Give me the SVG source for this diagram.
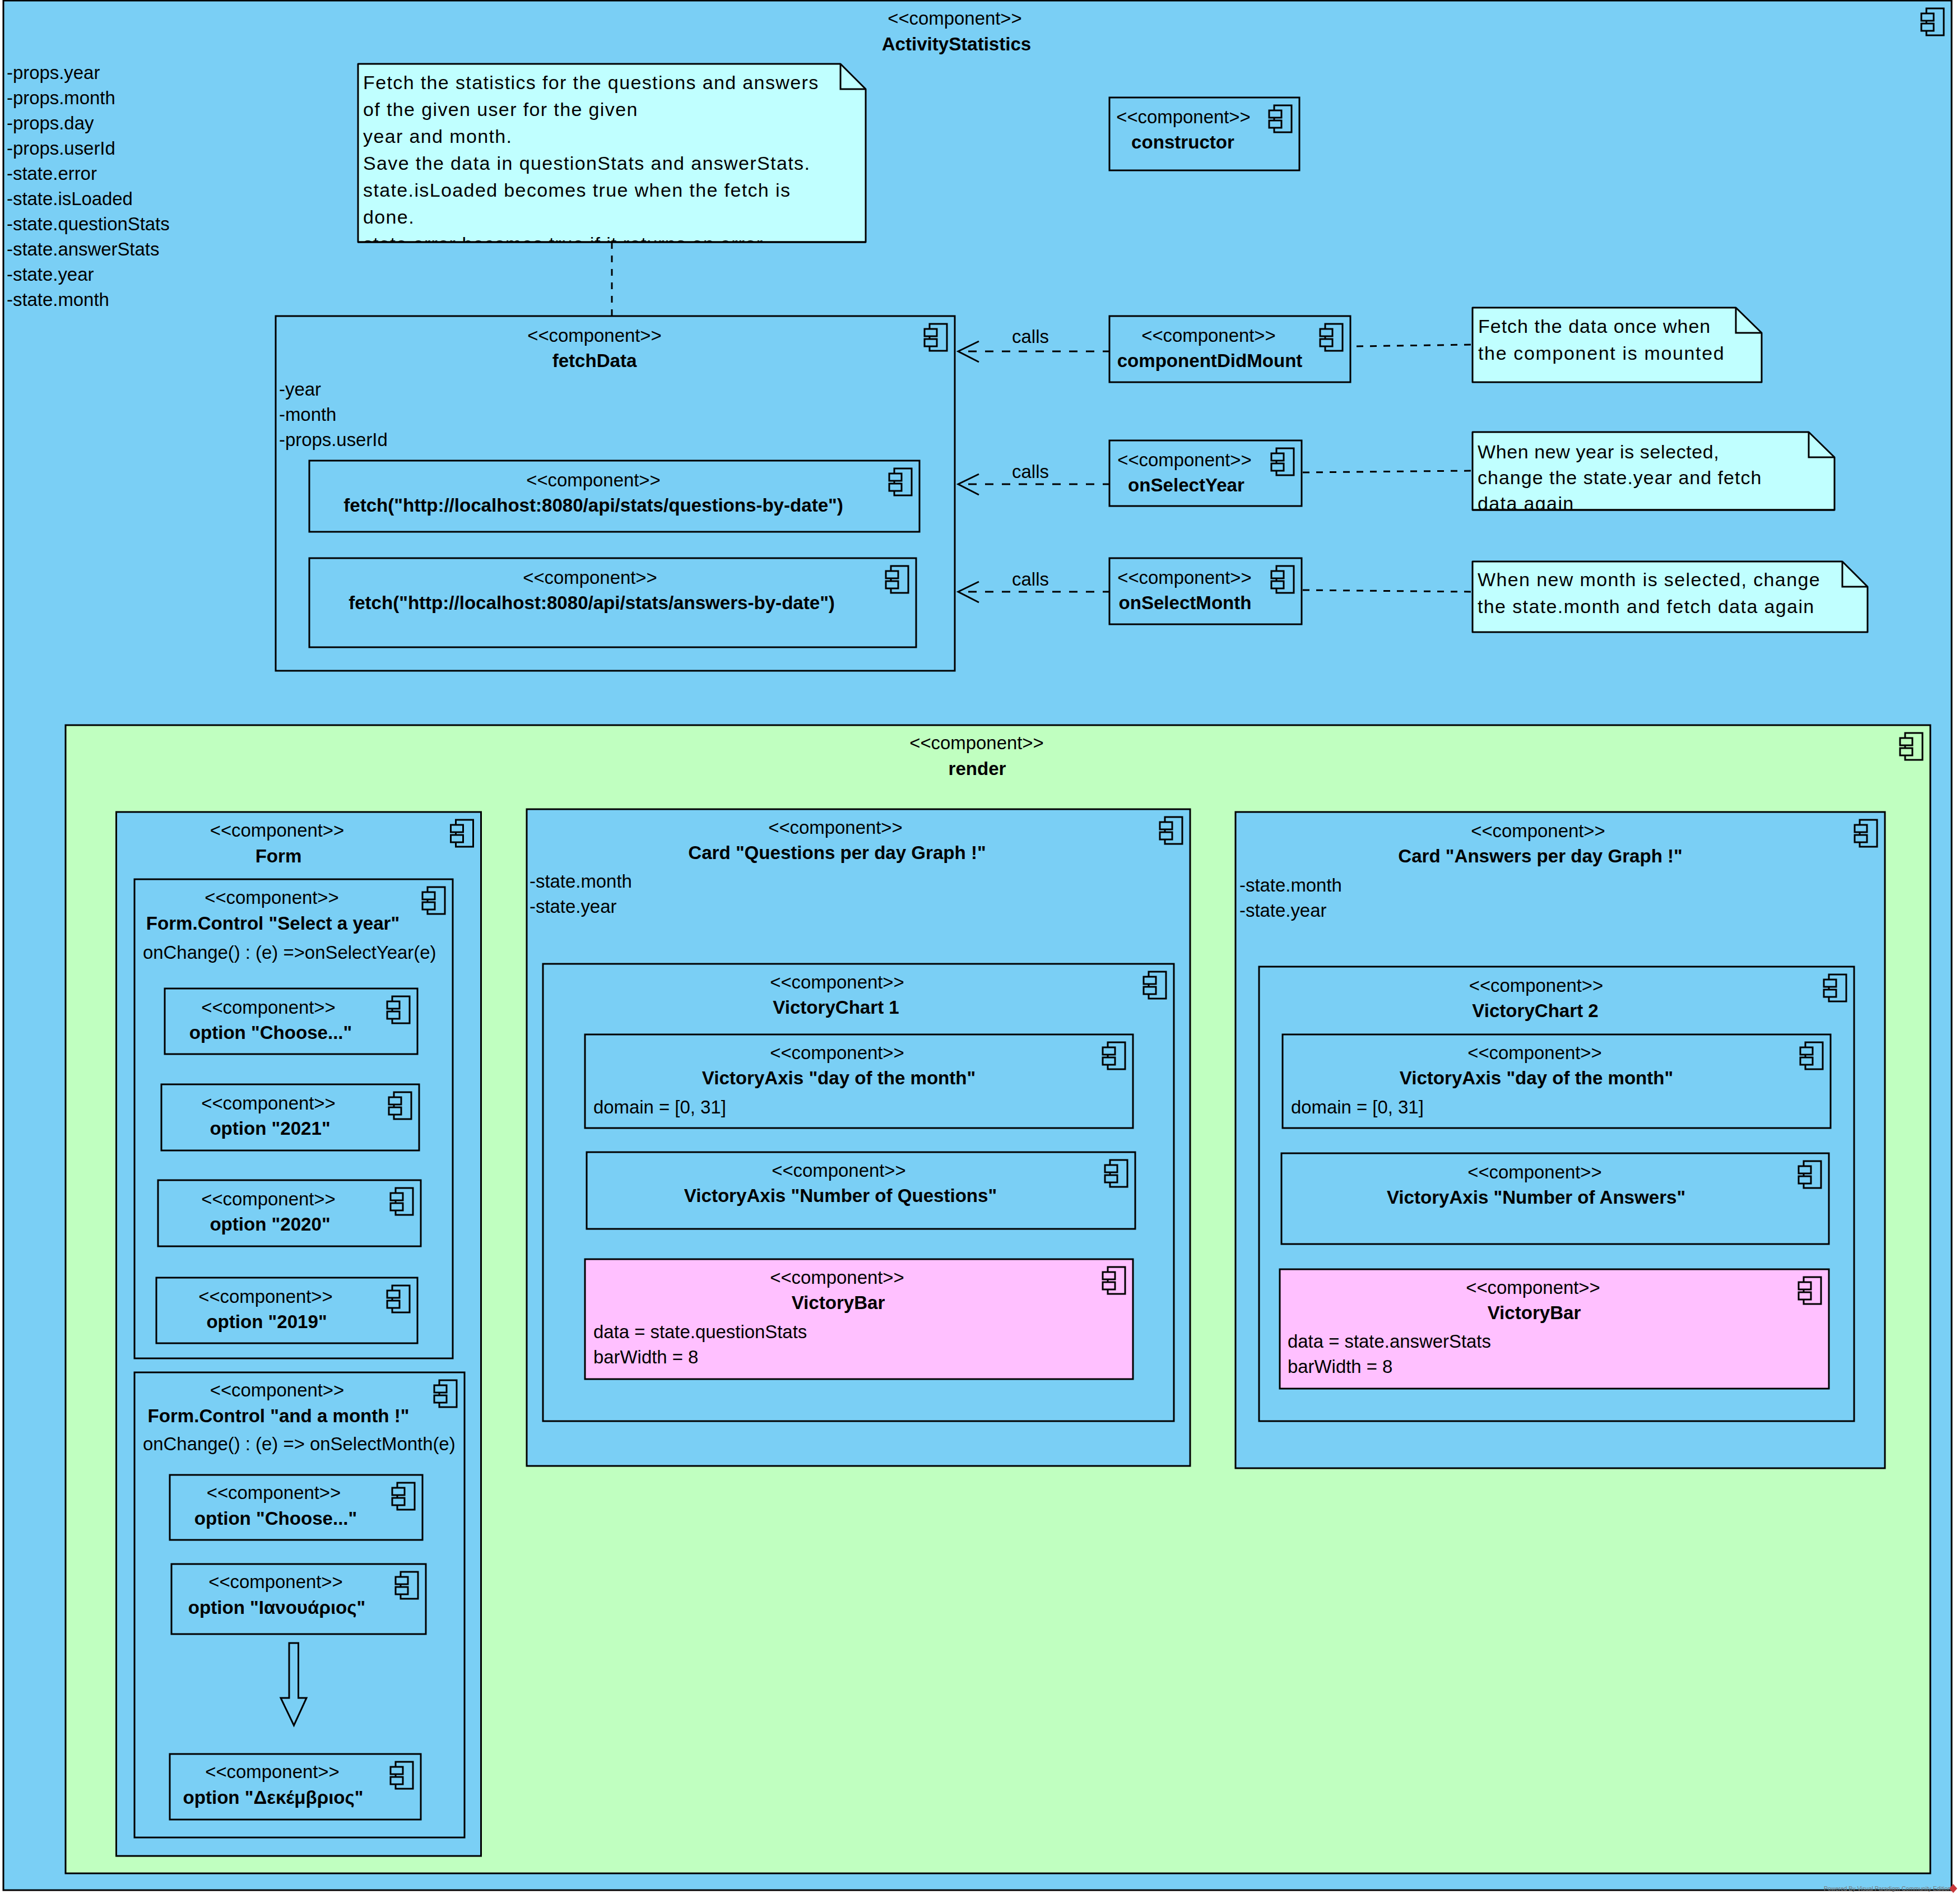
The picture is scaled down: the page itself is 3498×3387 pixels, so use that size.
<svg xmlns="http://www.w3.org/2000/svg" width="3498" height="3387" viewBox="0 0 3498 3387">
<style>
text{font-family:"Liberation Sans",Arial,sans-serif;font-size:32.9px;fill:#000}
.b{font-weight:bold;font-size:33.1px}
.m{text-anchor:middle}
.n{font-size:34px;letter-spacing:1.38px}
.n2{letter-spacing:1px}
.s{fill:#7ACFF5;stroke:#000;stroke-width:3}
.g{fill:#C0FFC0;stroke:#000;stroke-width:3}
.p{fill:#FFC0FF;stroke:#000;stroke-width:3}
.t{fill:#C0FFFF;stroke:#000;stroke-width:3;stroke-linejoin:round}
.f{fill:none;stroke:#000;stroke-width:3}
.d{fill:none;stroke:#000;stroke-width:3;stroke-dasharray:12 12}
.e{fill:none;stroke:#000;stroke-width:3;stroke-dasharray:15 15}
</style>
<defs>
<g id="ic"><path class="f" d="M-45 23V14H-14V62H-45V54M-45 36V41"/><rect class="f" x="-54" y="23" width="22" height="13"/><rect class="f" x="-54" y="41" width="22" height="13"/></g>
<clipPath id="c1"><rect x="638" y="114" width="907" height="318"/></clipPath>
<clipPath id="c2"><rect x="2628" y="771" width="646" height="139"/></clipPath>
</defs>
<rect width="3498" height="3387" fill="#fff"/>

<g id="ActivityStatistics"><rect class="s" x="6" y="1" width="3477" height="3372"/><use href="#ic" x="3483" y="1"/>
<text class="m" x="1704" y="44">&lt;&lt;component&gt;&gt;</text><text class="m b" x="1707" y="90">ActivityStatistics</text>
<text x="12" y="141">-props.year</text><text x="12" y="186">-props.month</text><text x="12" y="231">-props.day</text><text x="12" y="276">-props.userId</text><text x="12" y="321">-state.error</text><text x="12" y="366">-state.isLoaded</text><text x="12" y="411">-state.questionStats</text><text x="12" y="456">-state.answerStats</text><text x="12" y="501">-state.year</text><text x="12" y="546">-state.month</text></g>

<g id="note-fetch"><path class="t" d="M639 114H1500L1545 159V432H639Z"/><path class="f" d="M1500 114V159H1545"/>
<g clip-path="url(#c1)"><text class="n" x="648" y="159">Fetch the statistics for the questions and answers</text><text class="n" x="648" y="207">of the given user for the given</text><text class="n" x="648" y="255">year and month.</text><text class="n" x="648" y="303">Save the data in questionStats and answerStats.</text><text class="n" x="648" y="351">state.isLoaded becomes true when the fetch is</text><text class="n" x="648" y="399">done.</text><text class="n n2" x="648" y="447">state.error becomes true if it returns an error</text></g><path class="f" d="M639 432H1545"/></g>

<g id="constructor"><rect class="s" x="1980" y="174" width="339" height="130"/><use href="#ic" x="2319" y="174"/><text class="m" x="2112" y="220">&lt;&lt;component&gt;&gt;</text><text class="m b" x="2111" y="265">constructor</text></g>

<g id="fetchData"><rect class="s" x="492" y="564" width="1212" height="633"/><use href="#ic" x="1704" y="564"/><text class="m" x="1061" y="610">&lt;&lt;component&gt;&gt;</text><text class="m b" x="1061" y="655">fetchData</text><text x="498" y="706">-year</text><text x="498" y="751">-month</text><text x="498" y="796">-props.userId</text></g>
<g id="fetch-questions"><rect class="s" x="552" y="822" width="1089" height="127"/><use href="#ic" x="1641" y="822"/><text class="m" x="1059" y="868">&lt;&lt;component&gt;&gt;</text><text class="m b" x="1059" y="913">fetch("http://localhost:8080/api/stats/questions-by-date")</text></g>
<g id="fetch-answers"><rect class="s" x="552" y="996" width="1083" height="159"/><use href="#ic" x="1635" y="996"/><text class="m" x="1053" y="1042">&lt;&lt;component&gt;&gt;</text><text class="m b" x="1056" y="1087">fetch("http://localhost:8080/api/stats/answers-by-date")</text></g>

<g id="componentDidMount"><rect class="s" x="1980" y="564" width="430" height="118"/><use href="#ic" x="2410" y="564"/><text class="m" x="2157" y="610">&lt;&lt;component&gt;&gt;</text><text class="m b" x="2159" y="655">componentDidMount</text></g>
<g id="onSelectYear"><rect class="s" x="1980" y="786" width="343" height="117"/><use href="#ic" x="2323" y="786"/><text class="m" x="2114" y="832">&lt;&lt;component&gt;&gt;</text><text class="m b" x="2117" y="877">onSelectYear</text></g>
<g id="onSelectMonth"><rect class="s" x="1980" y="996" width="343" height="118"/><use href="#ic" x="2323" y="996"/><text class="m" x="2114" y="1042">&lt;&lt;component&gt;&gt;</text><text class="m b" x="2115" y="1087">onSelectMonth</text></g>

<g id="note-mount"><path class="t" d="M2628 549H3098L3144 594V682H2628Z"/><path class="f" d="M3098 549V594H3144"/><text class="n n2" x="2638" y="594">Fetch the data once when</text><text class="n" style="letter-spacing:1.65px" x="2638" y="642">the component is mounted</text></g>
<g id="note-year"><path class="t" d="M2628 771H3228L3274 816V910H2628Z"/><path class="f" d="M3228 771V816H3274"/><g clip-path="url(#c2)"><text class="n" style="letter-spacing:.6px" x="2637" y="818">When new year is selected,</text><text class="n n2" x="2637" y="864">change the state.year and fetch</text><text class="n" x="2637" y="910">data again</text></g><path class="f" d="M2628 910H3274"/></g>
<g id="note-month"><path class="t" d="M2628 1002H3288L3333 1047V1128H2628Z"/><path class="f" d="M3288 1002V1047H3333"/><text class="n" x="2637" y="1046">When new month is selected, change</text><text class="n" x="2637" y="1094">the state.month and fetch data again</text></g>

<g id="connectors">
<path class="d" d="M1092 432V564"/>
<path class="e" d="M1728 627H1980"/><path class="f" d="M1747 609L1710 627L1747 646"/>
<path class="e" d="M1728 864H1980"/><path class="f" d="M1747 846L1710 864L1747 883"/>
<path class="e" d="M1728 1056H1980"/><path class="f" d="M1747 1038L1710 1056L1747 1075"/>
<path class="d" d="M2421 618L2626 615"/><path class="d" d="M2325 843L2626 840"/><path class="d" d="M2325 1053L2626 1056"/>
<text class="m" x="1839" y="612">calls</text><text class="m" x="1839" y="853">calls</text><text class="m" x="1839" y="1045">calls</text>
</g>

<g id="render"><rect class="g" x="117" y="1294" width="3328" height="2049"/><use href="#ic" x="3445" y="1294"/><text class="m" x="1743" y="1337">&lt;&lt;component&gt;&gt;</text><text class="m b" x="1744" y="1383">render</text></g>

<g id="Form"><rect class="s" x="207.500" y="1449" width="651" height="1863"/><use href="#ic" x="858.500" y="1449"/><text class="m" x="494.500" y="1493">&lt;&lt;component&gt;&gt;</text><text class="m b" x="497" y="1539">Form</text></g>
<g id="control-year"><rect class="s" x="240" y="1569" width="568" height="855"/><use href="#ic" x="808" y="1569"/><text class="m" x="485" y="1613">&lt;&lt;component&gt;&gt;</text><text class="m b" x="487" y="1659">Form.Control "Select a year"</text><text x="255" y="1711">onChange() : (e) =&gt;onSelectYear(e)</text></g>
<g id="y-choose"><rect class="s" x="294" y="1764" width="451" height="117"/><use href="#ic" x="745" y="1764"/><text class="m" x="479" y="1809">&lt;&lt;component&gt;&gt;</text><text class="m b" x="483" y="1854">option "Choose..."</text></g>
<g id="y-2021"><rect class="s" x="288" y="1935" width="460" height="118"/><use href="#ic" x="748" y="1935"/><text class="m" x="479" y="1980">&lt;&lt;component&gt;&gt;</text><text class="m b" x="482" y="2025">option "2021"</text></g>
<g id="y-2020"><rect class="s" x="282" y="2106" width="469" height="118"/><use href="#ic" x="751" y="2106"/><text class="m" x="479" y="2151">&lt;&lt;component&gt;&gt;</text><text class="m b" x="482" y="2196">option "2020"</text></g>
<g id="y-2019"><rect class="s" x="279" y="2280" width="466" height="117"/><use href="#ic" x="745" y="2280"/><text class="m" x="474" y="2325">&lt;&lt;component&gt;&gt;</text><text class="m b" x="476" y="2370">option "2019"</text></g>
<g id="control-month"><rect class="s" x="240" y="2449" width="589" height="830"/><use href="#ic" x="829" y="2449"/><text class="m" x="494.500" y="2492">&lt;&lt;component&gt;&gt;</text><text class="m b" x="497" y="2538">Form.Control "and a month !"</text><text x="255" y="2588">onChange() : (e) =&gt; onSelectMonth(e)</text></g>
<g id="m-choose"><rect class="s" x="303" y="2632" width="451" height="116"/><use href="#ic" x="754" y="2632"/><text class="m" x="488.500" y="2675">&lt;&lt;component&gt;&gt;</text><text class="m b" x="492" y="2721">option "Choose..."</text></g>
<g id="m-jan"><rect class="s" x="306" y="2791" width="454" height="125"/><use href="#ic" x="760" y="2791"/><text class="m" x="492" y="2834">&lt;&lt;component&gt;&gt;</text><text class="m b" x="494" y="2880">option "Ιανουάριος"</text></g>
<g id="m-arrow"><path class="f" d="M516 2932H532.500V3030H547L524.500 3079L501 3030H516Z"/></g>
<g id="m-dec"><rect class="s" x="303" y="3130" width="448" height="117"/><use href="#ic" x="751" y="3130"/><text class="m" x="486" y="3173">&lt;&lt;component&gt;&gt;</text><text class="m b" x="487.500" y="3219">option "Δεκέμβριος"</text></g>

<g id="card-questions"><rect class="s" x="940" y="1444" width="1184" height="1172"/><use href="#ic" x="2124" y="1444"/><text class="m" x="1491" y="1488">&lt;&lt;component&gt;&gt;</text><text class="m b" x="1494" y="1533">Card "Questions per day Graph !"</text><text x="945" y="1584">-state.month</text><text x="945" y="1629">-state.year</text></g>
<g id="chart-1"><rect class="s" x="969" y="1720" width="1126" height="816"/><use href="#ic" x="2095" y="1720"/><text class="m" x="1494" y="1764">&lt;&lt;component&gt;&gt;</text><text class="m b" x="1492" y="1809">VictoryChart 1</text></g>
<g id="axis-day-1"><rect class="s" x="1044" y="1846" width="978" height="167"/><use href="#ic" x="2022" y="1846"/><text class="m" x="1494" y="1890">&lt;&lt;component&gt;&gt;</text><text class="m b" x="1497" y="1935">VictoryAxis "day of the month"</text><text x="1059" y="1987">domain = [0, 31]</text></g>
<g id="axis-questions"><rect class="s" x="1047" y="2056" width="979" height="137"/><use href="#ic" x="2026" y="2056"/><text class="m" x="1497" y="2100">&lt;&lt;component&gt;&gt;</text><text class="m b" x="1500" y="2145">VictoryAxis "Number of Questions"</text></g>
<g id="bar-1"><rect class="p" x="1044" y="2247" width="978" height="214"/><use href="#ic" x="2022" y="2247"/><text class="m" x="1494" y="2291">&lt;&lt;component&gt;&gt;</text><text class="m b" x="1496" y="2336">VictoryBar</text><text x="1059" y="2388">data = state.questionStats</text><text x="1059" y="2433">barWidth = 8</text></g>

<g id="card-answers"><rect class="s" x="2205" y="1449" width="1159" height="1171"/><use href="#ic" x="3364" y="1449"/><text class="m" x="2745" y="1494">&lt;&lt;component&gt;&gt;</text><text class="m b" x="2749" y="1539">Card "Answers per day Graph !"</text><text x="2212" y="1591">-state.month</text><text x="2212" y="1636">-state.year</text></g>
<g id="chart-2"><rect class="s" x="2247" y="1725" width="1062" height="811"/><use href="#ic" x="3309" y="1725"/><text class="m" x="2741.500" y="1770">&lt;&lt;component&gt;&gt;</text><text class="m b" x="2740" y="1815">VictoryChart 2</text></g>
<g id="axis-day-2"><rect class="s" x="2289" y="1846" width="978" height="167"/><use href="#ic" x="3267" y="1846"/><text class="m" x="2739" y="1890">&lt;&lt;component&gt;&gt;</text><text class="m b" x="2742" y="1935">VictoryAxis "day of the month"</text><text x="2304" y="1987">domain = [0, 31]</text></g>
<g id="axis-answers"><rect class="s" x="2287" y="2058" width="977" height="162"/><use href="#ic" x="3264" y="2058"/><text class="m" x="2739" y="2103">&lt;&lt;component&gt;&gt;</text><text class="m b" x="2741.500" y="2148">VictoryAxis "Number of Answers"</text></g>
<g id="bar-2"><rect class="p" x="2284" y="2265" width="980" height="213"/><use href="#ic" x="3264" y="2265"/><text class="m" x="2736" y="2309">&lt;&lt;component&gt;&gt;</text><text class="m b" x="2738" y="2354">VictoryBar</text><text x="2298" y="2405">data = state.answerStats</text><text x="2298" y="2450">barWidth = 8</text></g>

<g id="watermark"><text x="3255" y="3374" style="font-size:10.500px;fill:#777">Powered By Visual Paradigm Community Edition</text><path d="M3486 3362L3493 3370L3486 3378L3479 3370Z" fill="#C8383A"/></g>
</svg>
